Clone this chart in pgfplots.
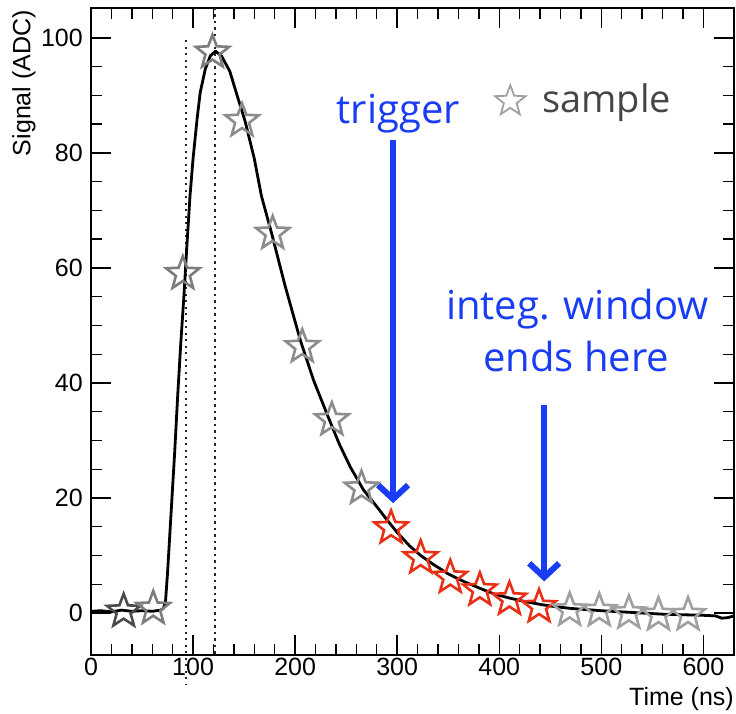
\documentclass[border=0pt]{standalone}
\usepackage{fontspec}
\setmainfont{Liberation Sans}
\newfontfamily\annfont{Open Sans}
\usepackage{pgfplots}
\pgfplotsset{compat=1.18}
\usetikzlibrary{arrows.meta}

\definecolor{annblue}{RGB}{25,60,245}
\definecolor{sred}{RGB}{232,48,22}
\definecolor{sdark}{RGB}{75,75,75}
\definecolor{smid}{RGB}{125,125,125}
\definecolor{sgray}{RGB}{140,140,140}
\definecolor{slight}{RGB}{160,160,160}
\definecolor{txtgray}{RGB}{70,70,70}

\pgfdeclareplotmark{pstar}{%
  \pgfpathmoveto{\pgfpointpolar{90}{\pgfplotmarksize}}%
  \pgfpathlineto{\pgfpointpolar{126}{0.42*\pgfplotmarksize}}%
  \pgfpathlineto{\pgfpointpolar{162}{\pgfplotmarksize}}%
  \pgfpathlineto{\pgfpointpolar{198}{0.42*\pgfplotmarksize}}%
  \pgfpathlineto{\pgfpointpolar{234}{\pgfplotmarksize}}%
  \pgfpathlineto{\pgfpointpolar{270}{0.42*\pgfplotmarksize}}%
  \pgfpathlineto{\pgfpointpolar{306}{\pgfplotmarksize}}%
  \pgfpathlineto{\pgfpointpolar{342}{0.42*\pgfplotmarksize}}%
  \pgfpathlineto{\pgfpointpolar{18}{\pgfplotmarksize}}%
  \pgfpathlineto{\pgfpointpolar{54}{0.42*\pgfplotmarksize}}%
  \pgfpathclose
  \pgfusepathqstroke
}

\begin{document}
\begin{tikzpicture}
\begin{axis}[
  scale only axis,
  width=643pt, height=647pt,
  xmin=0, xmax=630, ymin=-7.3, ymax=105.2,
  xtick={0,100,...,600}, ytick={0,20,...,100},
  minor x tick num=4, minor y tick num=3,
  tick align=inside,
  xtick pos=both, ytick pos=both,
  xticklabel pos=lower, yticklabel pos=left,
  major tick length=20pt, minor tick length=11pt,
  every tick/.style={black, line width=1.4pt},
  axis line style={line width=1.4pt},
  /pgf/number format/assume math mode=true,
  /pgf/number format/set thousands separator={},
  xticklabel style={font=\fontsize{25}{25}\selectfont, inner sep=0pt, yshift=-3pt},
  yticklabel style={font=\fontsize{25}{25}\selectfont, inner sep=0pt, xshift=-8pt},
  xlabel={Time (ns)}, ylabel={Signal (ADC)},
  every axis x label/.style={at={(rel axis cs:1,0)}, anchor=north east, inner sep=0pt,
     yshift=-32pt, font=\fontsize{25}{25}\selectfont},
  every axis y label/.style={at={(rel axis cs:0,1)}, inner sep=0pt,
     xshift=-67pt, yshift=-2pt, rotate=90, anchor=east, font=\fontsize{25}{25}\selectfont},
  clip=false,
]
% vertical dotted lines
\addplot[black!85, line width=2.3pt, dash pattern=on 2.2pt off 4.3pt, mark=none]
  coordinates {(93,99.6) (93,-12.5)};
\addplot[black!85, line width=2.3pt, dash pattern=on 2.2pt off 4.3pt, mark=none]
  coordinates {(121.5,105.2) (121.5,-7.3)};

% sample stars
\addplot[only marks, mark=pstar, mark size=17.5pt, line width=2.6pt, sdark]
  coordinates {(32,0.3)};
\addplot[only marks, mark=pstar, mark size=17.5pt, line width=2.6pt, smid]
  coordinates {(61,0.8) (90,59) (119,97.5)};
\addplot[only marks, mark=pstar, mark size=17.5pt, line width=2.6pt, sgray]
  coordinates {(148,85.6) (178,66) (207,46.3) (236,33.6) (265,21.7)};
\addplot[only marks, mark=pstar, mark size=17.5pt, line width=2.6pt, sred]
  coordinates {(294,14.8) (323,9.6) (352,6.2) (381,4.0) (410,2.4) (439,1.1)};
\addplot[only marks, mark=pstar, mark size=17.5pt, line width=2.6pt, slight]
  coordinates {(469,0.5) (498,0.4) (527,0) (556,-0.3) (585,-0.3)};

% pulse
\addplot[black, line width=2.8pt, mark=none, line join=round] coordinates {
(0,0.3) (10,0.4) (20,0.2) (30,0.5) (40,0.3) (50,0.4) (60,0.3) (68,0.5) (71,0.8)
(73,2) (75,7) (77,13) (79,19) (82,28) (85,38) (88,47) (91,55) (94,64) (97,72.5)
(100,79) (104,86) (107,90.5) (112,94.6) (117,96.9) (122,97.7) (128,96.8)
(136,94.2) (144,89.5) (151,85.5) (160,79) (167,72.5) (177,66) (190,57)
(205,47.5) (218,40.5) (231,34.7) (243,29.5) (254,25.4) (267,21.4) (280,18.5)
(290,16.2) (300,14) (312,11.7) (323,10) (335,8.5) (350,6.8) (365,5.5) (381,4.3)
(395,3.3) (410,2.6) (425,2) (440,1.5) (455,1.1) (470,0.8) (485,0.6) (500,0.4)
(520,0.2) (540,0) (560,-0.2) (580,-0.3) (600,-0.4) (612,-0.5) (618,-0.9) (624,-0.8) (630,-0.5)
};

% legend star
\addplot[only marks, mark=pstar, mark size=16pt, line width=1.8pt, slight]
  coordinates {(410.8,89)};
\node[anchor=base west, inner sep=0pt, text=txtgray, font=\annfont\fontsize{38}{38}\selectfont]
  at (axis cs:442,87) {sample};

% annotations
\node[anchor=base, inner sep=0pt, text=annblue, font=\annfont\fontsize{40}{40}\selectfont]
  at (axis cs:301,85.2) {trigger};
\node[anchor=base, inner sep=0pt, text=annblue, font=\annfont\fontsize{40}{40}\selectfont]
  at (axis cs:476.5,51) {integ. window};
\node[anchor=base, inner sep=0pt, text=annblue, font=\annfont\fontsize{40}{40}\selectfont]
  at (axis cs:475.5,42) {ends here};

\draw[annblue, line width=6pt, -{Straight Barb[length=14pt,width=30pt]}]
  (axis cs:296,82.3) -- (axis cs:296,19.1);
\draw[annblue, line width=6pt, -{Straight Barb[length=14pt,width=30pt]}]
  (axis cs:444,36.2) -- (axis cs:444,5.5);
\end{axis}
\path (current axis.south west) ++(-91pt,-59pt);
\path (current axis.north east) ++(2pt,8pt);
\end{tikzpicture}
\end{document}
